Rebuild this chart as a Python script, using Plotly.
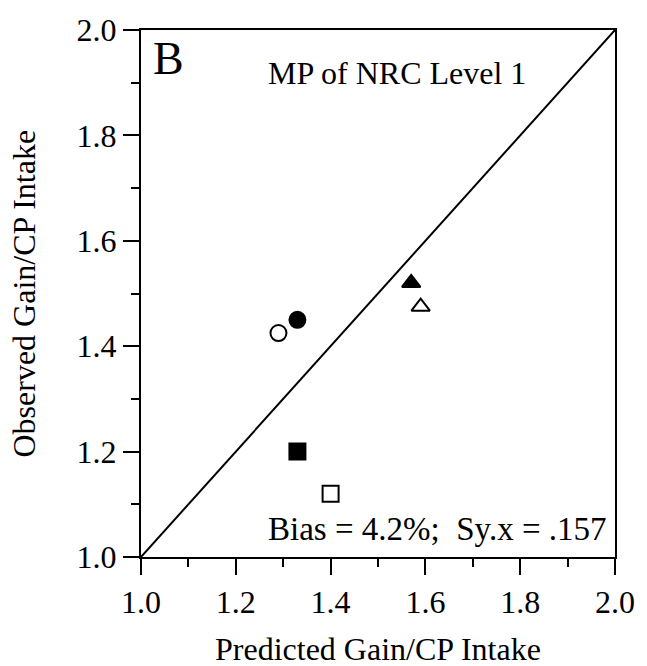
import plotly.graph_objects as go

# Predicted vs observed gain per unit CP intake (MP of NRC Level 1)
predicted = [1.29, 1.33, 1.57, 1.59, 1.33, 1.40]
observed = [1.425, 1.45, 1.52, 1.475, 1.20, 1.12]
symbols = ["circle-open", "circle", "triangle-up", "triangle-up-open", "square", "square-open"]

# 1:1 reference line
line_x = [1.0, 2.0]
line_y = [1.0, 2.0]

x_ticks = [1.0, 1.2, 1.4, 1.6, 1.8, 2.0]
y_ticks = [1.0, 1.2, 1.4, 1.6, 1.8, 2.0]
tick_text = ["1.0", "1.2", "1.4", "1.6", "1.8", "2.0"]

FONT = "Liberation Serif"
FS = 32

fig = go.Figure()
fig.add_trace(go.Scatter(x=line_x, y=line_y, mode="lines",
                         line=dict(color="black", width=2), showlegend=False,
                         cliponaxis=False))
fig.add_trace(go.Scatter(x=predicted, y=observed, mode="markers",
                         marker=dict(symbol=symbols, size=16, color="black",
                                     line=dict(color="black", width=2)),
                         showlegend=False, cliponaxis=False))

axis_common = dict(
    range=[1.0, 2.0], showgrid=False, zeroline=False,
    showline=True, linecolor="black", linewidth=2, mirror=True,
    ticks="outside", ticklen=16, tickwidth=2, tickcolor="black",
    tickfont=dict(family=FONT, size=FS, color="black"),
    minor=dict(dtick=0.1, ticks="outside", ticklen=8, tickwidth=2, tickcolor="black"),
)

fig.update_xaxes(**axis_common, tickvals=x_ticks, ticktext=tick_text)
fig.update_yaxes(**axis_common, tickvals=y_ticks, ticktext=tick_text)

# axis titles
fig.add_annotation(x=0.5, y=0, xref="paper", yref="paper", text="Predicted Gain/CP Intake",
                   showarrow=False, xanchor="center", yanchor="middle", yshift=-92,
                   font=dict(family=FONT, size=FS, color="black"))
fig.add_annotation(x=0, y=0.5, xref="paper", yref="paper", text="Observed Gain/CP Intake",
                   showarrow=False, xanchor="center", yanchor="middle", xshift=-118,
                   textangle=-90, font=dict(family=FONT, size=FS, color="black"))

# panel letter, panel title and fit statistics
fig.add_annotation(x=0.058, y=0.945, xref="paper", yref="paper", text="B",
                   showarrow=False, xanchor="center", yanchor="middle",
                   font=dict(family=FONT, size=46, color="black"))
fig.add_annotation(x=0.541, y=0.918, xref="paper", yref="paper", text="MP of NRC Level 1",
                   showarrow=False, xanchor="center", yanchor="middle",
                   font=dict(family=FONT, size=FS, color="black"))
fig.add_annotation(x=0.988, y=0.054, xref="paper", yref="paper",
                   text="Bias = 4.2%;  Sy.x = .157",
                   showarrow=False, xanchor="right", yanchor="middle",
                   font=dict(family=FONT, size=33, color="black"))

fig.update_layout(
    width=647, height=666,
    margin=dict(l=141, r=27, t=29, b=109),
    paper_bgcolor="white", plot_bgcolor="white",
)

fig.write_html("out.html")
